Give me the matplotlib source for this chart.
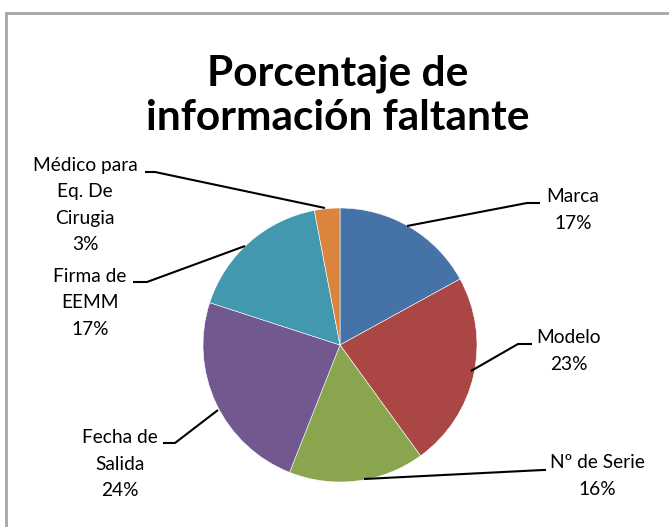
import matplotlib
matplotlib.use("Agg")
import matplotlib.pyplot as plt
from matplotlib.patches import Rectangle

# Data
categories = ["Marca", "Modelo", "Nº de Serie", "Fecha de\nSalida",
              "Firma de\nEEMM", "Médico para\nEq. De\nCirugia"]
percentages = [17, 23, 16, 24, 17, 3]
colors = ["#4572A7", "#AA4643", "#89A54E", "#71588F", "#4198AF", "#DB843D"]

W, H = 669, 527
plt.rcParams['font.family'] = ['Lato', 'DejaVu Sans']

fig = plt.figure(figsize=(W / 100, H / 100), dpi=100)
ax = fig.add_axes([0, 0, 1, 1])

# pixel-like coordinates, y measured from top
cx, cy, r = 340, 345, 137
ax.pie(percentages, colors=colors, startangle=90, counterclock=False,
       center=(cx, H - cy), radius=r,
       wedgeprops=dict(linewidth=0.4, edgecolor="white"))
ax.set_xlim(0, W)
ax.set_ylim(0, H)
ax.set_aspect("auto")
ax.axis("off")

# chart frame
fig.patches.append(Rectangle((6 / W, -0.05), 1.1, (H - 13) / H + 0.05,
                             transform=fig.transFigure, fill=False,
                             edgecolor="#a6a6a6", linewidth=2))

fig.text(338 / W, 1 - 96 / H, "Porcentaje de\ninformación faltante",
         ha="center", va="center", fontsize=30.5, fontweight="bold",
         linespacing=1.2)

# label positions (text centre) and leader lines: wedge point -> elbow -> end
label_xy = [(573, 210), (569, 351), (597, 476), (120, 464), (90, 303), (85, 205)]
leaders = [
    [(407, 226), (527, 203), (540, 203)],
    [(471, 371), (518, 344), (532, 344)],
    [(364, 479), (543, 470), (546, 470)],
    [(218, 410), (175, 443), (163, 443)],
    [(245, 246), (147, 282), (133, 282)],
    [(325, 208), (155, 172), (145, 172)],
]

for name, pct, (tx, ty), pts in zip(categories, percentages, label_xy, leaders):
    ax.text(tx, H - ty, f"{name}\n{pct}%", ha="center", va="center",
            fontsize=13.8, linespacing=1.67, color="black")
    xs = [p[0] for p in pts]
    ys = [H - p[1] for p in pts]
    ax.plot(xs, ys, color="black", linewidth=1.5, solid_capstyle="butt")

fig.savefig("out.png", dpi=100)
